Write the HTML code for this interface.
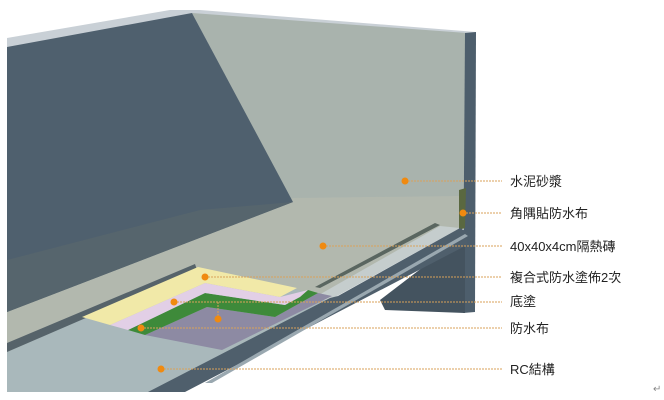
<!DOCTYPE html>
<html><head><meta charset="utf-8"><style>
html,body{margin:0;padding:0;background:#fff;width:664px;height:400px;overflow:hidden}
svg{display:block}
text{font-family:"Liberation Sans","Noto Sans CJK TC",sans-serif;font-size:13px;fill:#222}
</style></head><body>
<svg width="664" height="400" viewBox="0 0 664 400">
<!-- top white rim -->
<polygon points="7,38 170,10 200,10 476,32 470,36 195,14 7,48" fill="#c9d0d6"/>
<!-- back light wall -->
<polygon points="192,13 467,33 465,200 292,202" fill="#a9b3ad"/>
<!-- main floor (mortar) -->
<polygon points="7,300 293,198 460,196 460,228 330,292 300,300 110,330 7,352" fill="#b2b8ae"/>
<!-- left dark wall -->
<polygon points="7,47 192,13 293,202 7,312" fill="#4f606e"/>
<polygon points="7,260 200,210 293,202 7,312" fill="#56656d"/>
<!-- front lower floor (light grey RC) -->
<polygon points="7,352 197,268 335,298 150,392 7,392" fill="#a9b8bb"/>
<!-- dark edge strip -->
<polygon points="7,343 195,264 197,270 7,352" fill="#56636a"/>
<!-- right dark column -->
<polygon points="465,33 476,32 475,312 463,313" fill="#4d5e6c"/>
<!-- dark underside -->
<polygon points="380,300 465,235 465,313 385,310" fill="#44535f"/>
<!-- ledge light band -->
<polygon points="440,226 460,228 330,300 310,300" fill="#c5cdcd"/>
<!-- back floor joint strip -->
<polygon points="435,223 440,225 320,288 315,287" fill="#5a6660"/>
<!-- corner waterproof cloth -->
<polygon points="459,190 466,188 465,228 459,230" fill="#5a6840"/>
<!-- layers -->
<polygon points="145,335 207,307 275,317 318,293 332,296 222,350" fill="#8d8aa3"/>
<polygon points="128,330 205,293 285,305 308,290 318,293 275,317 207,307 145,335" fill="#3e8a3a"/>
<polygon points="110,325 205,283 280,297 308,290 300,297 285,305 205,293 128,330" fill="#e2cfe6"/>
<polygon points="82,317 198,267 297,288 280,297 205,283 110,325" fill="#f1e9a8"/>
<!-- dark RC slab band -->
<polygon points="460,228 467,232 467,245 185,392 148,392 330,298 338,296" fill="#4f5f6c"/>
<polygon points="465,234 468,236 212,383 205,383" fill="#9aa8b0"/>
<!-- leader lines -->
<g stroke="#d9a25a" stroke-width="1" stroke-dasharray="2,1" fill="none">
<line x1="405" y1="181" x2="502" y2="181"/>
<line x1="463" y1="213" x2="502" y2="213"/>
<line x1="323" y1="246" x2="502" y2="246"/>
<line x1="205" y1="277" x2="502" y2="277"/>
<line x1="174" y1="302" x2="502" y2="302"/>
<line x1="218" y1="302" x2="218" y2="319"/>
<line x1="141" y1="328" x2="502" y2="328"/>
<line x1="161" y1="369" x2="502" y2="369"/>
</g>
<g fill="#f08a10">
<circle cx="405" cy="181" r="3.5"/><circle cx="463" cy="213" r="3.5"/>
<circle cx="323" cy="246" r="3.5"/><circle cx="205" cy="277" r="3.5"/>
<circle cx="174" cy="302" r="3.5"/><circle cx="218" cy="319" r="3.5"/>
<circle cx="141" cy="328" r="3.5"/><circle cx="161" cy="369" r="3.5"/>
</g>
<text x="510" y="186">水泥砂漿</text>
<text x="510" y="218">角隅貼防水布</text>
<text x="510" y="251">40x40x4cm隔熱磚</text>
<text x="510" y="282">複合式防水塗佈2次</text>
<text x="510" y="306">底塗</text>
<text x="510" y="333">防水布</text>
<text x="510" y="374">RC結構</text>
<text x="653" y="392" style="font-size:10px;fill:#888">↵</text>
</svg>
</body></html>
